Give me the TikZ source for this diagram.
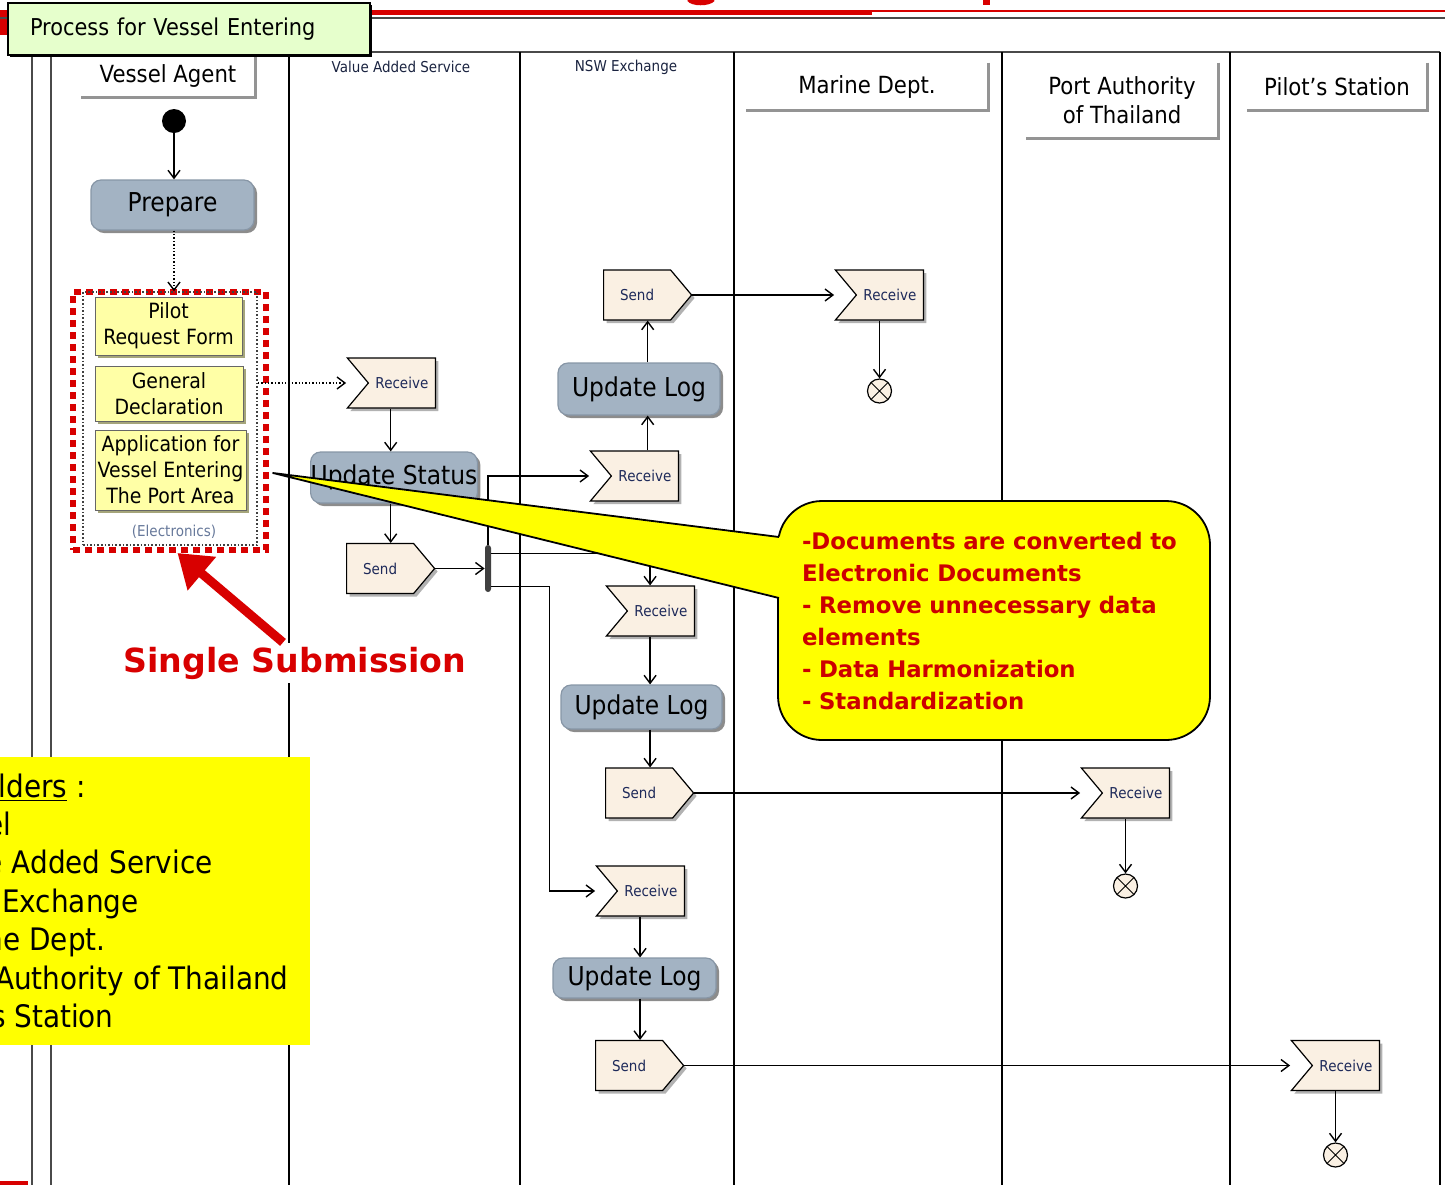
\documentclass[tikz,border=0pt]{standalone}
\usepackage{fontspec}
\setmainfont{DejaVu Sans}[FakeStretch=0.9]
\newfontfamily\widefont{DejaVu Sans}
\usetikzlibrary{arrows.meta,shapes.symbols,shadows,calc}

\definecolor{actfill}{HTML}{A3B3C3}
\definecolor{actdraw}{HTML}{8796A6}
\definecolor{msgfill}{HTML}{FAF0E3}
\definecolor{msgtext}{HTML}{1E2A5A}
\definecolor{docfill}{HTML}{FFFFA6}
\definecolor{docshade}{HTML}{A5A57A}
\definecolor{titlefill}{HTML}{E6FFCC}
\definecolor{ssred}{HTML}{D80000}
\definecolor{calltext}{HTML}{CC0000}
\definecolor{lanegray}{HTML}{4A4A4A}
\definecolor{tinytext}{HTML}{1A2340}
\definecolor{electext}{HTML}{66789A}
\definecolor{notefill}{HTML}{FFFF00}

\tikzset{
  laneline/.style={line width=0.75pt, draw=black},
  frameline/.style={line width=1.1pt, draw=lanegray},
  hdr/.style={rectangle, inner sep=0pt, align=center, font=\fontsize{11.8pt}{14.5pt}\selectfont},
  hdredge/.style={draw=black!42, line width=1.3pt},
  actbox/.style={rectangle, rounded corners=5pt, fill=actfill, draw=actdraw, line width=0.6pt,
    inner xsep=0pt, inner ysep=0pt, font=\fontsize{13pt}{15pt}\selectfont,
    drop shadow={shadow xshift=1.5pt, shadow yshift=-1.5pt, fill=black!45, opacity=1}},
  msgbase/.style={signal, signal pointer angle=100, fill=msgfill, draw=black, line width=0.6pt,
    inner xsep=1pt, minimum height=25pt, minimum width=44pt,
    font=\fontsize{7.5pt}{9pt}\selectfont\color{msgtext},
    drop shadow={shadow xshift=1.5pt, shadow yshift=-1.5pt, fill=black!30, opacity=1}},
  sendbox/.style={msgbase, signal to=east, anchor=west},
  recvbox/.style={msgbase, signal from=west, signal to=nowhere, anchor=east},
  docbox/.style={rectangle, fill=docfill, draw=black!60, line width=0.4pt, align=center, inner sep=0pt,
    font=\fontsize{10.5pt}{13pt}\selectfont,
    drop shadow={shadow xshift=1.5pt, shadow yshift=-1.5pt, fill=docshade, opacity=1}},
  flowend/.style={circle, draw=black, fill=msgfill, line width=0.6pt, minimum size=12pt, inner sep=0pt,
    path picture={\draw[line width=0.5pt]
      (path picture bounding box.north west) -- (path picture bounding box.south east)
      (path picture bounding box.north east) -- (path picture bounding box.south west);}},
  startdot/.style={circle, fill=black, minimum size=12pt, inner sep=0pt},
  arr/.style={-{Straight Barb[length=4pt,width=6pt]}, line width=0.7pt},
  dotarr/.style={arr, densely dotted},
  tinylabel/.style={font=\fontsize{7.5pt}{8.5pt}\selectfont, text=tinytext},
  stktext/.style={anchor=base east, inner sep=0pt, font=\fontsize{15.5pt}{18pt}\selectfont},
}

\begin{document}
\begin{tikzpicture}[x=0.5pt, y=-0.5pt]
\useasboundingbox (0,0) rectangle (1445,1185);
\clip (0,0) rectangle (1445,1185);

% heading rules and the cut-off heading letters
\fill[ssred] (0,9.5) rectangle (872,14.5);
\fill[ssred] (0,9.5) rectangle (8,35);
\fill[ssred] (872,10) rectangle (1445,12);
\draw[ssred, line width=2.5pt] (689,-1) .. controls (692,4) and (709,4) .. (713,-1);
\fill[ssred] (983,0) rectangle (990,5);
\draw[lanegray, line width=1.1pt] (0,18) -- (1445,18);
\fill[ssred] (0,1181) rectangle (28,1185);

% swimlane frame
\draw[frameline] (32,52) -- (1440,52);
\draw[frameline] (32,52) -- (32,1185);
\draw[frameline] (51,52) -- (51,1185);
\draw[laneline] (289,52) -- (289,1185);
\draw[laneline] (520,52) -- (520,1185);
\draw[laneline] (734,52) -- (734,1185);
\draw[laneline] (1002,52) -- (1002,1185);
\draw[laneline] (1230,52) -- (1230,1185);
\draw[laneline] (1440,52) -- (1440,1185);

% lane headers
\node[hdr, minimum width=87pt, minimum height=21pt] (hva) at (168,76) {Vessel Agent};
\draw[hdredge] (hva.north east) -- (hva.south east) -- (hva.south west);
\node[hdr, minimum width=121pt, minimum height=23.5pt] (hmd) at (867,86.5) {Marine Dept.};
\draw[hdredge] (hmd.north east) -- (hmd.south east) -- (hmd.south west);
\node[hdr, minimum width=96pt, minimum height=37.5pt] (hpa) at (1122,100.5) {Port Authority\\of Thailand};
\draw[hdredge] (hpa.north east) -- (hpa.south east) -- (hpa.south west);
\node[hdr, minimum width=90pt, minimum height=23.5pt] (hps) at (1337,86.5) {Pilot’s Station};
\draw[hdredge] (hps.north east) -- (hps.south east) -- (hps.south west);
\node[tinylabel] (hvas) at (401,67) {Value Added Service};
\node[tinylabel] (hnsw) at (626,67) {NSW Exchange};

% process title
\node[rectangle, fill=titlefill, draw=black, line width=1pt, minimum height=26pt,
      text width=159pt, inner xsep=11pt, align=left, font=\fontsize{11.6pt}{14pt}\selectfont,
      drop shadow={shadow xshift=1.2pt, shadow yshift=-1.2pt, fill=black, opacity=1}]
      (title) at (189,29) {Process for Vessel Entering};

% Vessel Agent lane
\node[startdot] (init) at (174,121) {};
\node[actbox, minimum width=81.5pt, minimum height=25pt] (prep) at (172.5,205) {Prepare};
\node[draw=ssred, line width=3pt, dash pattern=on 3.5pt off 2.5pt,
      minimum width=96.5pt, minimum height=129pt] (redgrp) at (169.5,421) {};
\node[draw=black!75, densely dotted, line width=0.8pt,
      minimum width=87pt, minimum height=126.5pt] (grp) at (170,418.5) {};
\node[docbox, minimum width=73.5pt, minimum height=29pt] (pform) at (168.5,326) {Pilot\\Request Form};
\node[docbox, minimum width=74pt, minimum height=27.5pt] (gdec) at (169,393.5) {General\\Declaration};
\node[docbox, minimum width=75.5pt, minimum height=40pt] (appl) at (170.5,470) {Application for\\Vessel Entering\\The Port Area};
\node[font=\fontsize{7.5pt}{9pt}\selectfont, text=electext] (elec) at (174,532) {(Electronics)};

% Value Added Service lane
\node[recvbox] (rv) at (436,383) {Receive};
\node[actbox, minimum width=82pt, minimum height=25.5pt] (ust) at (394,477.5) {Update Status};
\node[sendbox] (sv) at (346,568.5) {Send};
\node[rectangle, rounded corners=1.5pt, fill=black!75, minimum width=3pt, minimum height=23.5pt, inner sep=0pt] (bar) at (488,568.5) {};

% NSW Exchange lane
\node[sendbox] (s1) at (603,295) {Send};
\node[actbox, minimum width=81pt, minimum height=26pt] (u1) at (639,389) {Update Log};
\node[recvbox] (r1) at (679,476) {Receive};
\node[recvbox] (r2) at (695,611) {Receive};
\node[actbox, minimum width=80.5pt, minimum height=22pt] (u2) at (641.5,707) {Update Log};
\node[sendbox] (s2) at (605,793) {Send};
\node[recvbox] (r3) at (685,891) {Receive};
\node[actbox, minimum width=81.5pt, minimum height=20pt] (u3) at (634.5,978) {Update Log};
\node[sendbox] (s3) at (595,1065.5) {Send};

% receiving lanes
\node[recvbox] (mr) at (924,295) {Receive};
\node[flowend] (f1) at (879.5,391) {};
\node[recvbox] (pr) at (1170,793) {Receive};
\node[flowend] (f2) at (1125.5,886) {};
\node[recvbox] (pl) at (1380,1065.5) {Receive};
\node[flowend] (f3) at (1335.5,1155) {};

% mid-lines of the message shapes
\coordinate (svmid) at ($(sv.west)!.5!(sv.east)$);
\coordinate (s1mid) at ($(s1.west)!.5!(s1.east)$);
\coordinate (r2mid) at ($(r2.north west)!.5!(r2.north east)$);
\coordinate (r3mid) at ($(r3.north west)!.5!(r3.north east)$);

% control and message flows
\draw[arr] (init) -- (init |- prep.north);
\draw[dotarr] (prep.south -| init) -- (grp.north -| init);
\draw[dotarr] (grp.east |- rv.west) -- (rv.north west |- rv.west);
\draw[arr] (rv.south -| svmid) -- (ust.north -| svmid);
\draw[arr] (ust.south -| svmid) -- (sv.north -| svmid);
\draw[arr] (sv.east) -- (bar.west);
\draw[arr] (bar.north) |- (r1.north west |- r1.west);
\draw[arr] ([yshift=7.5pt]bar.east) -| (r2mid);
\draw[arr] ([yshift=-9pt]bar.east) -- ++(29pt,0) |- (r3.north west |- r3.west);
\draw[arr] (r1.north -| s1mid) -- (u1.south -| s1mid);
\draw[arr] (u1.north -| s1mid) -- (s1.south -| s1mid);
\draw[arr] (s1.east) -- (mr.north west |- mr.west);
\draw[arr] (mr.south -| f1) -- (f1.north);
\draw[arr] (r2.south -| r2mid) -- (u2.north -| r2mid);
\draw[arr] (u2.south -| r2mid) -- (s2.north -| r2mid);
\draw[arr] (s2.east) -- (pr.north west |- pr.west);
\draw[arr] (pr.south -| f2) -- (f2.north);
\draw[arr] (r3.south -| r3mid) -- (u3.north -| r3mid);
\draw[arr] (u3.south -| r3mid) -- (s3.north -| r3mid);
\draw[arr] (s3.east) -- (pl.north west |- pl.west);
\draw[arr] (pl.south -| f3) -- (f3.north);

% explanatory callout
\node[rectangle, rounded corners=22pt, fill=notefill, draw=black, line width=0.9pt,
      minimum height=119.5pt, text width=198pt, inner xsep=9pt, align=left,
      font=\widefont\bfseries\fontsize{11.4pt}{16pt}\selectfont, text=calltext]
      (call) at (994,620.5)
      {\hspace*{3pt}-Documents are converted to\\\hspace*{3pt}Electronic Documents\\\hspace*{3pt}- Remove unnecessary data\\\hspace*{3pt}elements\\\hspace*{3pt}- Data Harmonization\\\hspace*{3pt}- Standardization};
\coordinate (tip) at (273,473);
\coordinate (pa) at (779,537);
\coordinate (pb) at (779,598);
\fill[notefill] (tip) -- ([xshift=1.5pt]pa) -- ([xshift=1.5pt]pb) -- cycle;
\draw[line width=0.9pt, line join=round] (pa) -- (tip) -- (pb);

% single submission remark
\node[font=\widefont\bfseries\fontsize{16.6pt}{19pt}\selectfont, text=ssred, fill=white, inner sep=2pt]
      (ss) at (295,663) {Single Submission};
\draw[ssred, line width=4.5pt, -{Triangle[length=16pt,width=21pt]}]
      ([xshift=-6pt]ss.north) -- ([xshift=4pt]redgrp.south);

% stakeholder list
\node[fill=notefill, minimum width=155pt, minimum height=144pt, inner sep=0pt] (stk) at (155,901) {};
\node[stktext] (k1) at (86,797) {\underline{lders} :};
\node[stktext] (k2) at (12,835) {el};
\node[stktext] (k3) at (213,873) {e Added Service};
\node[stktext] (k4) at (139,912) {Exchange};
\node[stktext] (k5) at (106,950) {ne Dept.};
\node[stktext] (k6) at (289,989) {Authority of Thailand};
\node[stktext] (k7) at (114,1027) {s Station};
\end{tikzpicture}
\end{document}
